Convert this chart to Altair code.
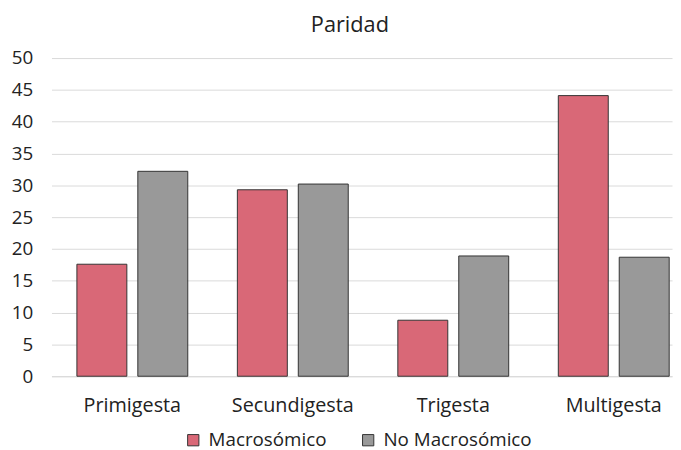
import altair as alt
import pandas as pd

categories = ["Primigesta", "Secundigesta", "Trigesta", "Multigesta"]
series = ["Macrosómico", "No Macrosómico"]
macro = [17.6, 29.3, 8.8, 44.1]
no_macro = [32.2, 30.2, 18.9, 18.7]

rows = []
for c, a, b in zip(categories, macro, no_macro):
    rows.append({"cat": c, "serie": series[0], "val": a})
    rows.append({"cat": c, "serie": series[1], "val": b})
df = pd.DataFrame(rows)

FONT = "Open Sans"

chart = alt.Chart(df).mark_bar(stroke="#333333", strokeWidth=1).encode(
    x=alt.X("cat:N", sort=categories, title=None,
            scale=alt.Scale(paddingInner=0.309, paddingOuter=0.088, align=0.9),
            axis=alt.Axis(labelAngle=0, labelFontSize=20, labelColor="#222222",
                          labelFont=FONT, ticks=False, domainColor="#d9d9d9",
                          labelPadding=20)),
    xOffset=alt.XOffset("serie:N", sort=series,
                        scale=alt.Scale(paddingInner=0.18)),
    y=alt.Y("val:Q", title=None,
            scale=alt.Scale(domain=[0, 50], nice=False),
            axis=alt.Axis(values=list(range(0, 55, 5)), labelFontSize=19,
                          labelColor="#222222", labelFont=FONT, ticks=False,
                          domain=False, gridColor="#d9d9d9", labelPadding=19)),
    color=alt.Color("serie:N", sort=series,
                    scale=alt.Scale(domain=series, range=["#d96877", "#999999"]),
                    legend=alt.Legend(title=None, orient="none", direction="horizontal",
                                      legendX=134, legendY=377, symbolType="square",
                                      symbolSize=130, symbolStrokeColor="#333333",
                                      symbolStrokeWidth=1, labelFontSize=19,
                                      labelFont=FONT, labelColor="#222222",
                                      columnPadding=32, symbolOffset=0, labelOffset=6)),
).properties(
    width=628, height=322,
    title=alt.TitleParams("Paridad", fontSize=22, font=FONT, fontWeight="normal",
                          color="#222222", offset=12, dx=-12),
    padding={"left": 44, "top": 48, "right": 1, "bottom": 72},
    autosize=alt.AutoSizeParams(type="none"),
).configure_view(stroke=None)

chart.save("out.html", embed_options={"renderer": "svg", "actions": False})
